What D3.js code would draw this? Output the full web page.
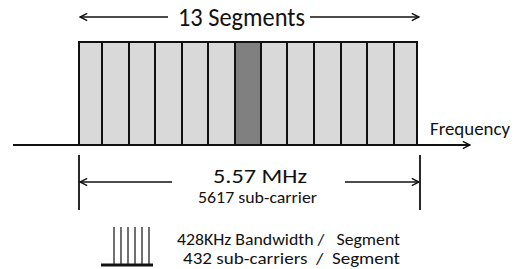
<!DOCTYPE html>
<html><head><meta charset="utf-8">
<script src="https://cdn.jsdelivr.net/npm/d3@7/dist/d3.min.js"></script>
<style>
html,body{margin:0;padding:0;background:#fff;}
text{font-family:Calibri,Carlito,Lato,"Open Sans",sans-serif;fill:#111;white-space:pre;}
</style></head>
<body><svg id="c" width="520" height="269"></svg>
<script>
// data
const segments = ["1","2","3","4","5","6","7","8","9","10","11","12","13"];
const segmentWidths = [23,27,26,27,26,27,26,26,27,27,26,27,23]; // relative widths
const highlighted = "7";
const topLabel = "13 Segments";
const bandLabel = "5.57 MHz";
const bandSub = "5617 sub-carrier";
const axisLabel = "Frequency";
const legendLines = ["428KHz Bandwidth /   Segment", "432 sub-carriers  /  Segment"];
const combTeeth = [0,1,2,3,4,5];

const svg = d3.select("#c");
const defs = svg.append("defs");
defs.append("marker").attr("id","ah").attr("viewBox","0 0 10 10").attr("refX",9).attr("refY",5)
  .attr("markerWidth",9).attr("markerHeight",9).attr("markerUnits","userSpaceOnUse").attr("orient","auto-start-reverse")
  .append("path").attr("d","M1,1 L9,5 L1,9").attr("fill","none").attr("stroke","#111").attr("stroke-width",1.6);

const total = d3.sum(segmentWidths);
const x = d3.scaleLinear().domain([0,total]).range([79,417]);
const cum = [0]; segmentWidths.forEach(w=>cum.push(cum[cum.length-1]+w));
const yTop = 42, yBase = 145;

// segments
svg.append("g").selectAll("rect").data(segments).join("rect")
  .attr("x",(d,i)=>x(cum[i])).attr("y",yTop)
  .attr("width",(d,i)=>x(cum[i+1])-x(cum[i])).attr("height",yBase-yTop)
  .attr("fill",d=>d===highlighted?"#808080":"#d9d9d9")
  .attr("stroke","#111").attr("stroke-width",2);

function label(t, x0, y0, size, len){
  return svg.append("text").attr("x",x0).attr("y",y0).attr("font-size",size)
    .attr("textLength",len).attr("lengthAdjust","spacingAndGlyphs").text(t);
}

// frequency axis
svg.append("line").attr("x1",13).attr("x2",470).attr("y1",yBase).attr("y2",yBase)
  .attr("stroke","#111").attr("stroke-width",2).attr("marker-end","url(#ah)");
label(axisLabel, 430, 135, 18, 80);

// top arrows
svg.append("line").attr("x1",168).attr("x2",80).attr("y1",17).attr("y2",17)
  .attr("stroke","#111").attr("stroke-width",1.5).attr("marker-end","url(#ah)");
svg.append("line").attr("x1",310).attr("x2",419).attr("y1",17).attr("y2",17)
  .attr("stroke","#111").attr("stroke-width",1.5).attr("marker-end","url(#ah)");
label(topLabel, 178, 26, 26, 127);

// bottom band
[79,420].forEach(xx=>svg.append("line").attr("x1",xx).attr("x2",xx).attr("y1",155).attr("y2",210)
  .attr("stroke","#111").attr("stroke-width",1.8));
svg.append("line").attr("x1",172).attr("x2",80).attr("y1",182).attr("y2",182)
  .attr("stroke","#111").attr("stroke-width",1.5).attr("marker-end","url(#ah)");
svg.append("line").attr("x1",345).attr("x2",419).attr("y1",182).attr("y2",182)
  .attr("stroke","#111").attr("stroke-width",1.5).attr("marker-end","url(#ah)");
label(bandLabel, 213, 183, 20, 94);
label(bandSub, 198, 203, 15.5, 119);

// legend comb
const cx = d3.scaleLinear().domain([0,combTeeth.length-1]).range([114,149]);
svg.append("g").selectAll("line").data(combTeeth).join("line")
  .attr("x1",d=>cx(d)).attr("x2",d=>cx(d)).attr("y1",227).attr("y2",264)
  .attr("stroke","#111").attr("stroke-width",1.2);
svg.append("line").attr("x1",101).attr("x2",153).attr("y1",265).attr("y2",265)
  .attr("stroke","#111").attr("stroke-width",3);
label(legendLines[0], 177, 245, 16, 223);
label(legendLines[1], 183, 264, 16, 217);
</script></body></html>
